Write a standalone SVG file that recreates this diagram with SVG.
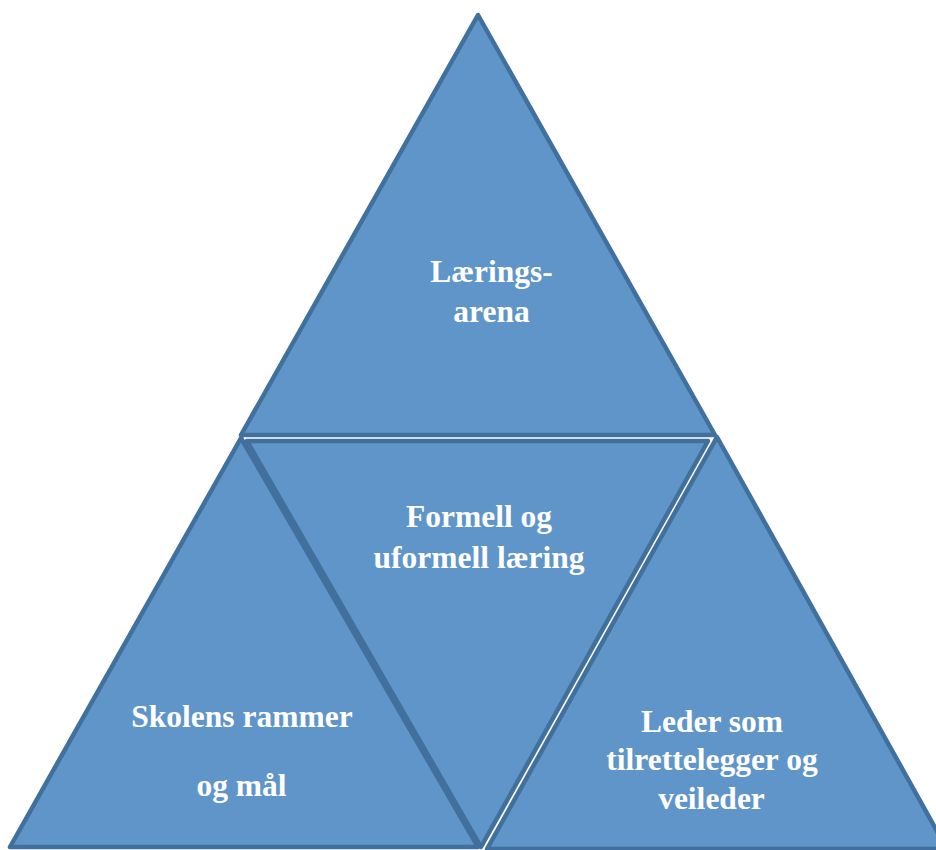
<svg xmlns="http://www.w3.org/2000/svg" width="936" height="850" viewBox="0 0 936 850">
  <style>
    .tri { fill: #5f95c8; stroke: #42709c; stroke-width: 4.5; stroke-linejoin: round; }
    .lbl { font-family: "Liberation Serif", "Times New Roman", serif; font-weight: bold; font-size: 31.5px; fill: #ffffff; text-anchor: middle; }
  </style>
  <rect x="0" y="0" width="936" height="850" fill="#ffffff"/>

  <!-- lower left: school framework -->
  <g id="skolens-rammer">
    <polygon class="tri" points="241,438 10,847 478,847"/>
    <text class="lbl" x="242" y="727">Skolens rammer</text>
    <text class="lbl" x="241.5" y="796">og mål</text>
  </g>

  <!-- lower right: leader as facilitator -->
  <g id="leder">
    <polygon class="tri" points="717,437 487,849 947,849"/>
    <text class="lbl" x="712" y="732">Leder som</text>
    <text class="lbl" x="712" y="770">tilrettelegger og</text>
    <text class="lbl" x="711.5" y="809">veileder</text>
  </g>

  <!-- centre, inverted: formal and informal learning -->
  <g id="formell-uformell">
    <polygon class="tri" points="247,441 708,441 481,847"/>
    <text class="lbl" x="479" y="527">Formell og</text>
    <text class="lbl" x="479" y="568">uformell læring</text>
  </g>

  <!-- top: learning arena -->
  <g id="laeringsarena">
    <polygon class="tri" points="478,15 241,435 715,435"/>
    <text class="lbl" x="491.5" y="282">Lærings-</text>
    <text class="lbl" x="491.5" y="322">arena</text>
  </g>

  <g id="connectors"></g>
</svg>
